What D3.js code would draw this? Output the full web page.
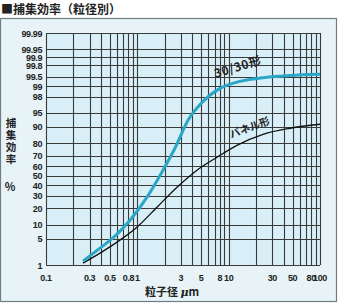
<!DOCTYPE html>
<html>
<head>
<meta charset="utf-8">
<script src="https://cdn.jsdelivr.net/npm/d3@7"></script>
<style>
  html, body { margin: 0; padding: 0; background: #fff; }
  svg { display: block; }
  .tick { font-family: "Liberation Sans", Arial, sans-serif; font-size: 9px; font-weight: bold; fill: #222; letter-spacing: -0.4px; }
  .jp { font-family: "Noto Sans CJK JP", sans-serif; font-weight: bold; fill: #222; }
</style>
</head>
<body>
<script>
// y grid / labels (collection efficiency, %)
const yTicks = [1, 5, 10, 20, 30, 40, 50, 60, 70, 80, 90, 95, 98, 99, 99.5, 99.8, 99.9, 99.95, 99.99];
// x labels (particle size, um)
const xLabels = [0.1, 0.3, 0.5, 0.8, 1, 3, 5, 8, 10, 30, 50, 80, 100];

// 30/30形 curve
const size3030 = [0.254, 0.39, 0.569, 0.832, 1.276, 1.91, 2.58, 3.59, 5.11, 8.04, 13.3, 25, 47, 100];
const eff3030  = [1.3, 2.96, 5.77, 12.3, 28.8, 55.7, 76.3, 92.6, 97.2, 98.86, 99.3, 99.48, 99.55, 99.59];

// パネル形 curve
const sizePanel = [0.254, 0.39, 0.645, 0.99, 1.64, 2.72, 4.5, 7.45, 12.3, 23.8, 47, 100];
const effPanel  = [1.14, 2.19, 4.67, 9.0, 20.6, 38.2, 55.7, 68.5, 78.6, 86.0, 89.2, 91.0];

// inverse normal cdf (Acklam)
function probit(p) {
  const a = [-3.969683028665376e+01, 2.209460984245205e+02, -2.759285104469687e+02, 1.383577518672690e+02, -3.066479806614716e+01, 2.506628277459239e+00];
  const b = [-5.447609879822406e+01, 1.615858368580409e+02, -1.556989798598866e+02, 6.680131188771972e+01, -1.328068155288572e+01];
  const c = [-7.784894002430293e-03, -3.223964580411365e-01, -2.400758277161838e+00, -2.549671039006934e+00, 4.374664141464968e+00, 2.938163982698783e+00];
  const d = [7.784695709041462e-03, 3.224671290700398e-01, 2.445134137142996e+00, 3.754408661907416e+00];
  const pl = 0.02425;
  let q, r;
  if (p < pl) {
    q = Math.sqrt(-2 * Math.log(p));
    return (((((c[0]*q+c[1])*q+c[2])*q+c[3])*q+c[4])*q+c[5]) / ((((d[0]*q+d[1])*q+d[2])*q+d[3])*q+1);
  } else if (p <= 1 - pl) {
    q = p - 0.5; r = q*q;
    return (((((a[0]*r+a[1])*r+a[2])*r+a[3])*r+a[4])*r+a[5])*q / (((((b[0]*r+b[1])*r+b[2])*r+b[3])*r+b[4])*r+1);
  } else {
    q = Math.sqrt(-2 * Math.log(1 - p));
    return -(((((c[0]*q+c[1])*q+c[2])*q+c[3])*q+c[4])*q+c[5]) / ((((d[0]*q+d[1])*q+d[2])*q+d[3])*q+1);
  }
}

const W = 340, H = 306;
const x = d3.scaleLog().domain([0.1, 100]).range([46, 320]);
const yz = d3.scaleLinear().domain([probit(0.01), probit(0.9999)]).range([265, 33]);
const y = p => yz(probit(p / 100));

const svg = d3.select("body").append("svg").attr("width", W).attr("height", H);

// outer panel
svg.append("rect")
  .attr("x", 0.5).attr("y", 18.5).attr("width", 336).attr("height", 283)
  .attr("fill", "#e7f3f7").attr("stroke", "#6f7d83").attr("stroke-width", 1.2);

// plot area
svg.append("rect")
  .attr("x", x(0.1)).attr("y", y(99.99))
  .attr("width", x(100) - x(0.1)).attr("height", y(1) - y(99.99))
  .attr("fill", "#d9eff7");

// vertical grid: 1..9 per decade
const xGrid = [];
[0.1, 1, 10].forEach(dec => { for (let i = 1; i < 10; i++) xGrid.push(dec * i); });
xGrid.push(100);

const grid = svg.append("g").attr("stroke", "#3a3a3a").attr("stroke-width", 1.1);
grid.selectAll("line.v").data(xGrid).join("line")
  .attr("x1", d => Math.round(x(d)) + 0.5).attr("x2", d => Math.round(x(d)) + 0.5)
  .attr("y1", y(99.99)).attr("y2", y(1));
grid.selectAll("line.h").data(yTicks).join("line")
  .attr("x1", x(0.1)).attr("x2", x(100))
  .attr("y1", d => Math.round(y(d)) + 0.5).attr("y2", d => Math.round(y(d)) + 0.5);

// y labels
svg.append("g").selectAll("text").data(yTicks).join("text")
  .attr("class", "tick")
  .attr("x", 42).attr("y", d => y(d) + 3.5)
  .attr("text-anchor", "end")
  .text(d => d);

// x labels
svg.append("g").selectAll("text").data(xLabels).join("text")
  .attr("class", "tick")
  .attr("x", d => x(d)).attr("y", 281)
  .attr("text-anchor", "middle")
  .text(d => d);

// curves
const line = d3.line().curve(d3.curveMonotoneX);
const pts3030 = size3030.map((s, i) => [x(s), y(eff3030[i])]);
const ptsPanel = sizePanel.map((s, i) => [x(s), y(effPanel[i])]);

svg.append("path").attr("d", line(ptsPanel))
  .attr("fill", "none").attr("stroke", "#111").attr("stroke-width", 1.3);
svg.append("path").attr("d", line(pts3030))
  .attr("fill", "none").attr("stroke", "#2aa7c6").attr("stroke-width", 3);

// curve labels
svg.append("text").attr("class", "jp")
  .attr("transform", "translate(239,71) rotate(-17)")
  .attr("text-anchor", "middle").attr("font-size", 12).attr("letter-spacing", 0.6)
  .text("30/30形");
svg.append("text").attr("class", "jp")
  .attr("transform", "translate(251,131) rotate(-20)")
  .attr("text-anchor", "middle").attr("font-size", 10.5)
  .text("パネル形");

// title
svg.append("text").attr("class", "jp")
  .attr("x", 1).attr("y", 14).attr("font-size", 12)
  .text("■捕集効率（粒径別）");

// y title (vertical)
const yTitle = ["捕", "集", "効", "率"];
svg.append("g").selectAll("text").data(yTitle).join("text")
  .attr("class", "jp").attr("font-size", 10.5)
  .attr("x", 11).attr("y", (d, i) => 127 + i * 12)
  .attr("text-anchor", "middle")
  .text(d => d);
svg.append("text").attr("class", "jp").attr("font-size", 11)
  .attr("x", 10).attr("y", 191).attr("text-anchor", "middle")
  .text("%");

// x title
const xt = svg.append("text").attr("class", "jp").attr("font-size", 11)
  .attr("x", 172).attr("y", 296).attr("text-anchor", "middle");
xt.append("tspan").text("粒子径 ");
xt.append("tspan").attr("font-style", "italic").attr("font-family", "DejaVu Serif").text("μ");
xt.append("tspan").text("m");
</script>
</body>
</html>
